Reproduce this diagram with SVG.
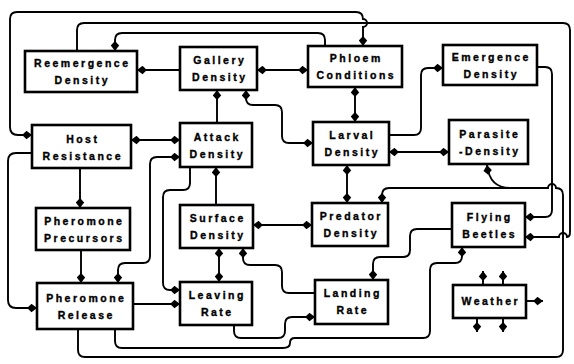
<svg xmlns="http://www.w3.org/2000/svg" width="574" height="364" viewBox="0 0 574 364">
<style>
.box{fill:#fff;stroke:#000;stroke-width:2.6}
.t{font-family:"Liberation Sans",Arial,sans-serif;font-weight:bold;font-size:10.5px;letter-spacing:2.5px;text-anchor:middle;fill:#000;stroke:#000;stroke-width:0.35}
.c path{fill:none;stroke:#000;stroke-width:1.9}
.e{marker-end:url(#ah)}
.b{marker-start:url(#ah);marker-end:url(#ah)}
</style>
<defs>
<marker id="ah" viewBox="0 0 10 8" refX="10" refY="4" markerWidth="11" markerHeight="9" markerUnits="userSpaceOnUse" orient="auto-start-reverse">
<path d="M10,4 L5,0.2 L1,4 L5,7.8 Z" fill="#000"/>
</marker>
</defs>
<rect width="574" height="364" fill="#fff"/>
<g class="c" id="connectors">
<path class="b" d="M32,135 H18 Q10,135 10,127 V19 Q10,12 17,12 H356 Q363,12 363,19 A4,4 0 0 1 363,27 V46"/>
<path class="e" d="M77,51 V30 Q77,23 84,23 H563 Q570,23 570,30 V232 Q570,237 567,237 A4,4 0 0 0 559,237 H525"/>
<path class="e" d="M325,46 V40 Q325,33 318,33 H122 Q115,33 115,40 V51"/>
<path class="e" d="M180,70 H137"/>
<path class="b" d="M257,70 H308"/>
<path class="b" d="M355,87 V122"/>
<path class="e" d="M217,123 V90"/>
<path class="b" d="M313,143 H289 Q282,143 282,136 V112 Q282,105 275,105 H253 Q246,105 246,98 V90"/>
<path class="e" d="M389,135 H414 Q421,135 421,128 V75 Q421,68 428,68 H443"/>
<path class="b" d="M389,152 H449"/>
<path class="b" d="M347,165 V203"/>
<path class="b" d="M253,225 H312"/>
<path class="e" d="M216,205 V167"/>
<path class="b" d="M131,140 H180"/>
<path class="b" d="M180,157 H157 Q150,157 150,164 V256 Q150,263 143,263 H125 Q118,263 118,270 V283"/>
<path class="e" d="M190,167 V183 Q190,190 183,190 H170 Q163,190 163,197 V283 Q163,290 170,290 H180"/>
<path class="e" d="M80,168 V208"/>
<path class="e" d="M81,250 V283"/>
<path class="e" d="M32,153 H16 Q8,153 8,161 V300 Q8,308 16,308 H37"/>
<path class="e" d="M133,304 H180"/>
<path class="b" d="M219,248 V282"/>
<path class="e" d="M315,293 H289 Q282,293 282,286 V272 Q282,265 275,265 H250 Q243,265 243,258 V248"/>
<path class="e" d="M234,325 V331 Q234,338 241,338 H278 Q285,338 285,331 V324 Q285,317 292,317 H315"/>
<path class="e" d="M115,329 V341 Q115,348 122,348 H283 Q290,348 290,343 Q290,338 295,338 H423 Q430,338 430,331 V270 Q430,263 437,263 H455 Q462,263 462,256 V247"/>
<path class="e" d="M452,229 H417 Q410,229 410,236 V250 Q410,257 403,257 H380 Q373,257 373,264 V280"/>
<path class="e" d="M537,67 H545 Q552,67 552,74 V210 Q552,217 545,217 H525"/>
<path class="e" d="M78,329 V350 Q78,357 85,357 H556 Q563,357 563,350 V195 Q563,188 556,188 A4,4 0 0 0 548,188 H389 Q382,188 382,195 V203"/>
<path class="e" d="M510,188 C498,188 489,182 487,165"/>
<path class="e" d="M483,285 V271"/>
<path class="e" d="M503,285 V271"/>
<path class="e" d="M477,318 V332"/>
<path class="e" d="M503,318 V332"/>
<path class="e" d="M526,301 H543"/>
</g>
<g id="reemergence"><rect class="box" x="25" y="51" width="112" height="41"/><text class="t" x="82.3" y="67">Reemergence</text><text class="t" x="82.3" y="84">Density</text></g>
<g id="gallery"><rect class="box" x="180" y="47" width="77" height="43"/><text class="t" x="219.8" y="64">Gallery</text><text class="t" x="219.8" y="81">Density</text></g>
<g id="phloem"><rect class="box" x="308" y="46" width="94" height="41"/><text class="t" x="356.3" y="62">Phloem</text><text class="t" x="356.3" y="79">Conditions</text></g>
<g id="emergence"><rect class="box" x="443" y="45" width="94" height="40"/><text class="t" x="491.3" y="61">Emergence</text><text class="t" x="491.3" y="78">Density</text></g>
<g id="host"><rect class="box" x="32" y="125" width="99" height="43"/><text class="t" x="82.8" y="143">Host</text><text class="t" x="82.8" y="160">Resistance</text></g>
<g id="attack"><rect class="box" x="180" y="123" width="72" height="44"/><text class="t" x="217.3" y="141">Attack</text><text class="t" x="217.3" y="158">Density</text></g>
<g id="larval"><rect class="box" x="313" y="122" width="76" height="43"/><text class="t" x="352.3" y="139">Larval</text><text class="t" x="352.3" y="156">Density</text></g>
<g id="parasite"><rect class="box" x="449" y="120" width="79" height="44"/><text class="t" x="489.8" y="138">Parasite</text><text class="t" x="489.8" y="155">-Density</text></g>
<g id="precursors"><rect class="box" x="36" y="208" width="94" height="42"/><text class="t" x="84.3" y="225">Pheromone</text><text class="t" x="84.3" y="242">Precursors</text></g>
<g id="surface"><rect class="box" x="180" y="205" width="73" height="43"/><text class="t" x="217.8" y="222">Surface</text><text class="t" x="217.8" y="239">Density</text></g>
<g id="predator"><rect class="box" x="312" y="203" width="76" height="43"/><text class="t" x="351.3" y="220">Predator</text><text class="t" x="351.3" y="237">Density</text></g>
<g id="flying"><rect class="box" x="452" y="203" width="73" height="44"/><text class="t" x="489.8" y="221">Flying</text><text class="t" x="489.8" y="238">Beetles</text></g>
<g id="release"><rect class="box" x="37" y="283" width="96" height="46"/><text class="t" x="86.3" y="302">Pheromone</text><text class="t" x="86.3" y="319">Release</text></g>
<g id="leaving"><rect class="box" x="180" y="282" width="72" height="43"/><text class="t" x="217.3" y="299">Leaving</text><text class="t" x="217.3" y="316">Rate</text></g>
<g id="landing"><rect class="box" x="315" y="280" width="73" height="44"/><text class="t" x="352.8" y="297">Landing</text><text class="t" x="352.8" y="314">Rate</text></g>
<g id="weather"><rect class="box" x="453" y="285" width="73" height="33"/><text class="t" x="490.8" y="305">Weather</text></g>
</svg>
